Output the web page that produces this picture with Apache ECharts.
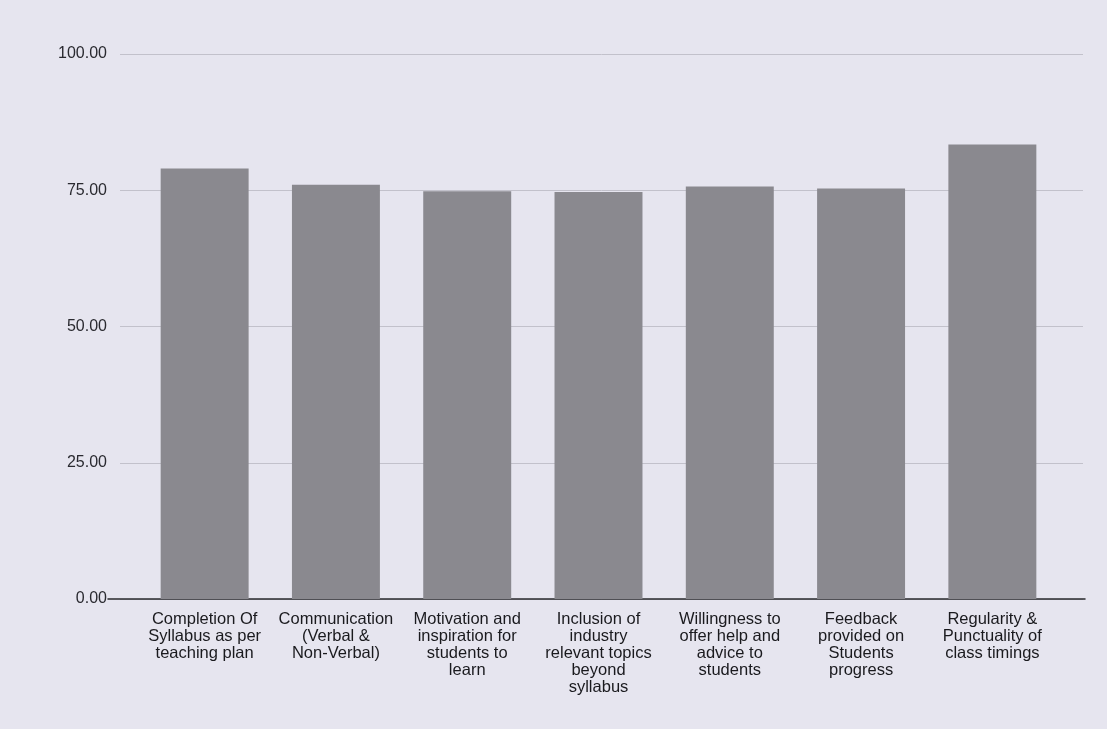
<!DOCTYPE html>
<html>
<head>
<meta charset="utf-8">
<script src="https://cdn.jsdelivr.net/npm/echarts@6/dist/echarts.min.js"></script>
<style>
html,body{margin:0;padding:0;background:#e6e5ef;}
#chart{width:1107px;height:729px;}
</style>
</head>
<body>
<div id="chart"></div>
<script>
const categories = [
  "Completion Of\nSyllabus as per\nteaching plan",
  "Communication\n(Verbal &\nNon-Verbal)",
  "Motivation and\ninspiration for\nstudents to\nlearn",
  "Inclusion of\nindustry\nrelevant topics\nbeyond\nsyllabus",
  "Willingness to\noffer help and\nadvice to\nstudents",
  "Feedback\nprovided on\nStudents\nprogress",
  "Regularity &\nPunctuality of\nclass timings"
];
const scores = [79.0, 76.0, 74.8, 74.7, 75.7, 75.3, 83.4];
const yTicks = { min: 0, max: 100, interval: 25 };

const chart = echarts.init(document.getElementById('chart'));
const font = 'Liberation Sans, Arial, sans-serif';
chart.setOption({
  backgroundColor: '#e6e5ef',
  animation: false,
  grid: [
    { left: 120, right: 24, top: 54, bottom: 130 },
    { left: 108, right: 22, top: 54, bottom: 130 },
    { left: 139, right: 49, top: 54, bottom: 130 }
  ],
  xAxis: [
    { gridIndex: 0, type: 'category', data: categories, show: false },
    { gridIndex: 1, type: 'category', data: categories,
      axisLine: { show: true, lineStyle: { color: '#2a2a2e', width: 1.5 } },
      axisTick: { show: false }, axisLabel: { show: false } },
    { gridIndex: 2, type: 'category', data: categories,
      axisLine: { show: false }, axisTick: { show: false },
      axisLabel: { interval: 0, color: '#1a1a1e', fontFamily: font, fontSize: 16.5, lineHeight: 17, margin: 12 } }
  ],
  yAxis: [
    { gridIndex: 0, type: 'value', min: yTicks.min, max: yTicks.max, interval: yTicks.interval,
      axisLine: { show: false }, axisTick: { show: false },
      axisLabel: { color: '#2a2a30', fontFamily: font, fontSize: 16, margin: 13,
        formatter: v => v.toFixed(2) },
      splitLine: { lineStyle: { color: '#c2c1cb', width: 1 } } },
    { gridIndex: 1, type: 'value', min: yTicks.min, max: yTicks.max, interval: yTicks.interval, show: false },
    { gridIndex: 2, type: 'value', min: yTicks.min, max: yTicks.max, interval: yTicks.interval, show: false }
  ],
  series: [{
    type: 'bar',
    xAxisIndex: 2, yAxisIndex: 2,
    data: scores,
    barCategoryGap: '33%',
    itemStyle: { color: '#8a898f' }
  }]
});
</script>
</body>
</html>
